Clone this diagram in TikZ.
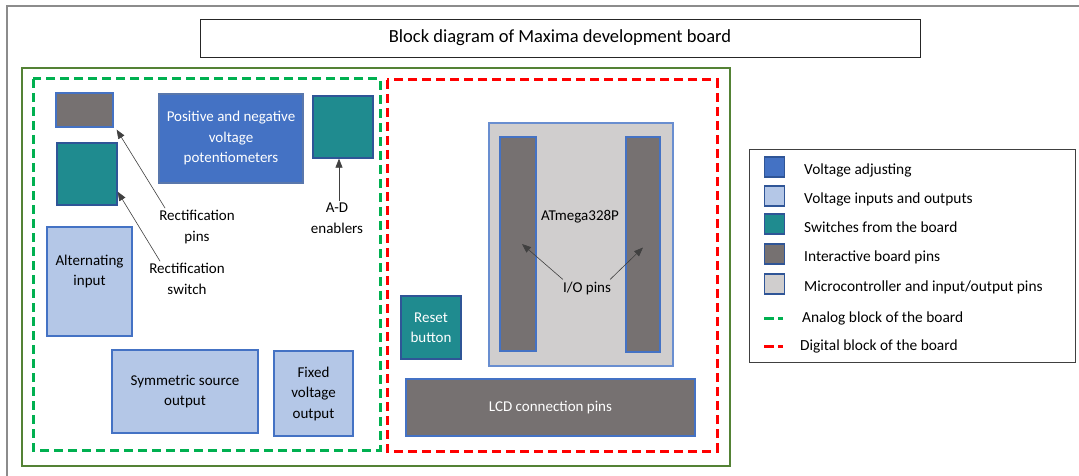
\documentclass[tikz,border=0pt]{standalone}
\usepackage{fontspec}
\setmainfont{Carlito}
\usetikzlibrary{arrows.meta}

\definecolor{adjblue}{HTML}{4472C4}
\definecolor{darkblue}{HTML}{2F5597}
\definecolor{lightblue}{HTML}{B4C7E7}
\definecolor{switchteal}{HTML}{1F8B8F}
\definecolor{pingray}{HTML}{767171}
\definecolor{chipgray}{HTML}{D0CECE}
\definecolor{analoggreen}{HTML}{00B050}
\definecolor{framegreen}{HTML}{548235}
\definecolor{digitalred}{HTML}{FF0000}
\definecolor{pagegray}{HTML}{8C8C8C}

\newcommand{\boxfont}{\fontsize{15}{20.5}\selectfont}
\newcommand{\keyfont}{\fontsize{15.4}{17}\selectfont}

\begin{document}
\begin{tikzpicture}[x=1pt, y=-1pt,
  block/.style = {draw, line width=1.3pt, align=center, inner sep=2pt, font=\boxfont},
  volt/.style = {block, fill=adjblue, draw=darkblue!80, text=white},
  inout/.style = {block, fill=lightblue, draw=adjblue},
  switch/.style = {block, fill=switchteal, draw=darkblue, text=white},
  pins/.style = {block, fill=pingray, draw=adjblue, text=white},
  micro/.style = {block, fill=chipgray, draw=adjblue!80},
  lbl/.style = {align=center, inner sep=2pt, font=\boxfont},
  pointer/.style = {-{Triangle[length=9pt,width=7pt]}, line width=0.6pt, black!75},
  analog/.style = {analoggreen, line width=3pt, dash pattern=on 9pt off 5pt},
  digital/.style = {digitalred, line width=3pt, dash pattern=on 9pt off 5pt}]

\clip (0,0) rectangle (1079,476);
\fill[white] (0,0) rectangle (1079,476);

% page frame and title
\draw[pagegray, line width=2pt] (7,6) rectangle (1090,490);
\node[draw=black!85, line width=0.9pt, minimum width=720pt, minimum height=38pt,
      font=\fontsize{18.5}{20}\selectfont] (title) at (560,38) {Block diagram of Maxima development board};

% board frame and blocks
\draw[framegreen, line width=2.5pt] (22,68) rectangle (730,466);
\draw[analog] (33,79) rectangle (380,450);
\draw[digital] (387,80) rectangle (717,451);

% analog block
\node[pins, minimum width=57pt, minimum height=34pt] (rpins) at (84.5,110) {};
\node[switch, minimum width=60pt, minimum height=62pt] (rswitch) at (87,174) {};
\node[volt, minimum width=144pt, minimum height=89pt] (potent) at (231,138.5)
     {Positive and negative\\voltage\\potentiometers};
\node[switch, minimum width=60pt, minimum height=62pt] (adenable) at (343,127) {};
\node[inout, minimum width=85pt, minimum height=109pt, text depth=22pt] (altin) at (89.5,281.5)
     {Alternating\\input};
\node[inout, minimum width=146pt, minimum height=83pt] (symout) at (185,391.5)
     {Symmetric source\\output};
\node[inout, minimum width=79pt, minimum height=85pt] (fixout) at (313.5,393.5)
     {Fixed\\voltage\\output};

\node[lbl] (rpinslbl) at (197,227) {Rectification\\pins};
\node[lbl] (rswlbl) at (187,279) {Rectification\\switch};
\node[lbl] (adlbl) at (337,218) {A-D\\enablers};

\draw[pointer] ([xshift=8pt]rpinslbl.north west) -- ([xshift=3pt,yshift=-2pt]rpins.south east);
\draw[pointer] ([xshift=13pt]rswlbl.north west) -- (rswitch.-30);
\draw[pointer] ([xshift=2pt]adlbl.north) -- ([xshift=2pt]adlbl.north |- adenable.south);

% digital block
\node[micro, minimum width=184pt, minimum height=243pt] (atmega) at (581,244.5) {};
\node[pins, minimum width=36pt, minimum height=214pt] (lpins) at (518,244) {};
\node[pins, minimum width=34pt, minimum height=215pt] (rpinsio) at (643,244.5) {};
\node[lbl] (chip) at (580,217) {ATmega328P};
\node[lbl] (iolbl) at (587,288) {I/O pins};
\node[switch, minimum width=60pt, minimum height=63pt] (reset) at (431,327.5) {Reset\\button};
\node[pins, minimum width=289pt, minimum height=57pt] (lcd) at (550.5,407.5) {LCD connection pins};

\draw[pointer] ([xshift=2pt]iolbl.north west) -- ([xshift=4pt]lpins.center);
\draw[pointer] ([xshift=-3pt]iolbl.north east) -- ([yshift=-3pt]rpinsio.center);

% legend
\draw[black!75, line width=1pt] (749,150) rectangle (1075,362);
\foreach \n/\st/\yy/\txt in {1/volt/167/Voltage adjusting,
                              2/inout/196/Voltage inputs and outputs,
                              3/switch/224/Switches from the board,
                              4/pins/254/Interactive board pins,
                              5/micro/284/{Microcontroller and input/output pins}}
{
  \node[\st, minimum width=20pt, minimum height=20pt, inner sep=0pt, draw=darkblue] (sq\n) at (774.5,\yy) {};
  \node[lbl, anchor=west, font=\keyfont] (tx\n) at (802,\yy+3) {\txt};
}
\draw[analoggreen, line width=3pt, dash pattern=on 10pt off 4pt on 5pt off 20pt] (764,318) -- (783,318);
\node[lbl, anchor=west, font=\keyfont] (tx6) at (800,318) {Analog block of the board};
\draw[digitalred, line width=3pt, dash pattern=on 10pt off 4pt on 5pt off 20pt] (764,346) -- (783,346);
\node[lbl, anchor=west, font=\keyfont] (tx7) at (798,346) {Digital block of the board};

\end{tikzpicture}
\end{document}
